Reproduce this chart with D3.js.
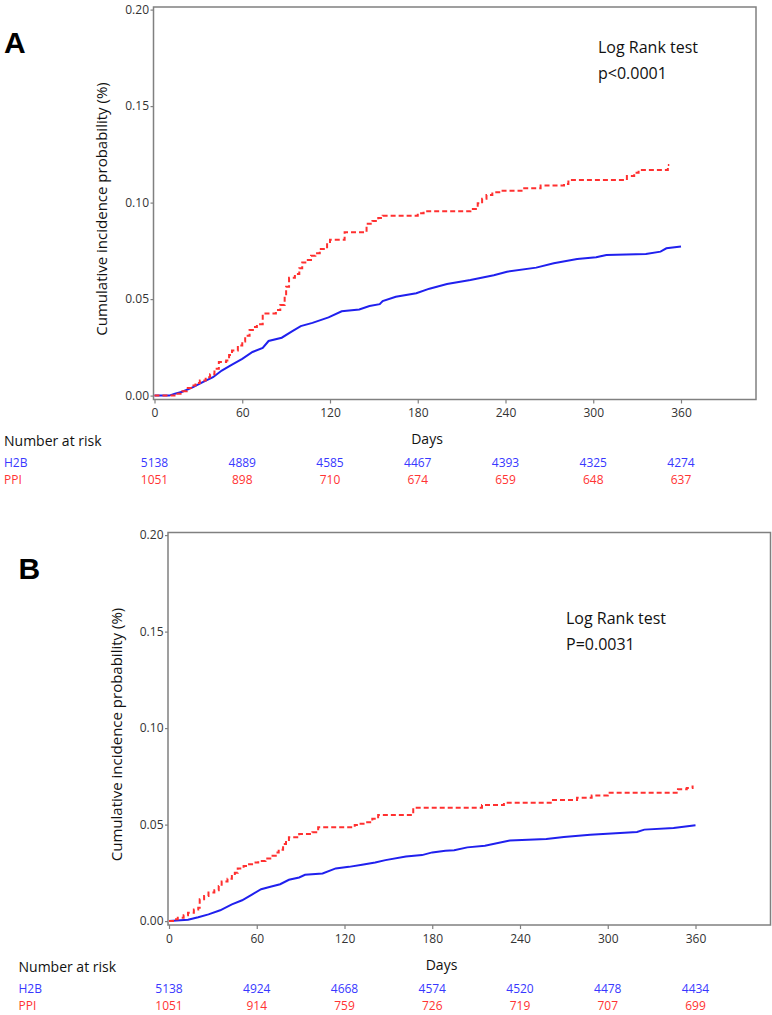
<!DOCTYPE html>
<html>
<head>
<meta charset="utf-8">
<script src="https://cdn.jsdelivr.net/npm/d3@7"></script>
<style>
  body { margin: 0; background: #fff; }
  svg { display: block; font-family: "Open Sans", sans-serif; }
</style>
</head>
<body>
<div id="chart"></div>
<script>
//
//  Two cumulative incidence panels (A and B) with a number-at-risk table
//  under each one. Panel B is the same layout shifted down and a bit right.
//

var days = [0, 60, 120, 180, 240, 300, 360];
var probTicks = [0, 0.05, 0.10, 0.15, 0.20];
var groups = ["H2B", "PPI"];
var panelLabels = ["A", "B"];
var pTexts = ["p<0.0001", "P=0.0031"];

    // [day, cumulative incidence]
var h2bCurveA = [[0,0],[10,0],[14,0.001],[19,0.002],[26,0.0043],[33,0.007],[40,0.0095],[46,0.013],
    [53,0.016],[60,0.019],[67,0.0226],[74,0.0247],[78,0.0283],[87,0.030],[94,0.0333],[100,0.036],
    [108,0.0377],[119,0.0405],[128,0.0437],[140,0.0446],[147,0.0464],[154,0.0474],[156,0.049],
    [165,0.0512],[179,0.053],[188,0.0554],[200,0.0578],[216,0.0599],[232,0.0624],[241,0.0642],
    [261,0.0663],[273,0.0686],[289,0.0708],[302,0.0717],[309,0.0729],[336,0.0734],[346,0.0746],
    [350,0.0763],[360,0.0772]];
var ppiCurveA = [[0,0],[15,0.001],[19,0.0023],[22,0.004],[25,0.0052],[28,0.0065],[31,0.0078],
    [35,0.0095],[38,0.011],[41,0.0139],[44,0.0174],[49,0.0182],[51,0.021],[53,0.0234],[57,0.026],
    [60,0.028],[62,0.031],[65,0.034],[68,0.0355],[70,0.037],[74,0.0425],[83,0.0443],[86,0.047],
    [89,0.052],[90,0.0564],[92,0.061],[96,0.063],[99,0.066],[101,0.069],[104,0.0703],[107,0.0725],
    [110,0.0738],[113,0.076],[118,0.079],[120,0.0807],[130,0.0847],[145,0.089],[149,0.0905],
    [153,0.092],[156,0.0932],[180,0.0945],[184,0.0955],[216,0.0967],[221,0.0996],[224,0.102],
    [227,0.1039],[231,0.1053],[238,0.1062],[252,0.1074],[264,0.1088],[280,0.1096],[283,0.1117],
    [323,0.1138],[328,0.1155],[331,0.1169],[351,0.1195],[352,0.1195]];
var h2bCurveB = [[0,0],[13,0.0007],[20,0.002],[27,0.0035],[35,0.0056],[43,0.0087],[50,0.0108],
    [57,0.0139],[63,0.0165],[70,0.0179],[76,0.0191],[82,0.0214],[89,0.0226],[93,0.024],[105,0.0247],
    [114,0.0273],[123,0.0281],[132,0.0292],[141,0.0304],[148,0.0316],[162,0.0335],[173,0.0342],
    [180,0.0356],[189,0.0365],[195,0.0367],[204,0.0382],[216,0.0391],[233,0.0417],[258,0.0426],
    [270,0.0436],[288,0.0448],[320,0.0462],[325,0.0474],[345,0.0483],[360,0.0497]];
var ppiCurveB = [[0,0],[4,0.001],[6,0.0017],[10,0.003],[13,0.0043],[17,0.006],[20,0.0069],
    [21,0.0113],[24,0.013],[27,0.0148],[31,0.016],[34,0.0182],[36,0.0205],[40,0.022],[43,0.0234],
    [45,0.025],[47,0.0273],[51,0.0285],[54,0.0295],[58,0.0303],[61,0.0312],[66,0.0325],[70,0.0339],
    [73,0.0355],[75,0.037],[78,0.040],[80,0.042],[82,0.0434],[89,0.0451],[98,0.046],[102,0.0486],
    [127,0.0498],[131,0.0505],[134,0.0512],[139,0.053],[143,0.055],[167,0.0587],[214,0.0601],
    [229,0.0613],[261,0.0627],[279,0.0639],[289,0.0651],[300,0.0665],[348,0.0683],[354,0.069],
    [358,0.0703]];

var h2bRiskA = [5138, 4889, 4585, 4467, 4393, 4325, 4274];
var ppiRiskA = [1051, 898, 710, 674, 659, 648, 637];
var h2bRiskB = [5138, 4924, 4668, 4574, 4520, 4478, 4434];
var ppiRiskB = [1051, 914, 759, 726, 719, 707, 699];

var lineColors = ["#2020ee", "#ff3030"];
var textColors = ["#3838ff", "#ff3333"];

var svg = d3.select("#chart").append("svg")
    .attr("width", 772)
    .attr("height", 1015);

    // one panel in local coordinates, moved into place by the group transform
function drawPanel(idx, ox, oy, curves, risks, testX, testY) {
    var g = svg.append("g").attr("transform", "translate(" + ox + "," + oy + ")");

    var x = d3.scaleLinear().domain([0, 360]).range([154.5, 681]);
    var y = d3.scaleLinear().domain([0, 0.20]).range([395.6, 9.6]);

        // panel letter
    g.append("text")
        .attr("x", 4).attr("y", 53)
        .style("font-family", "'Liberation Sans', Arial, sans-serif")
        .style("font-weight", "bold")
        .style("font-size", "30px")
        .text(panelLabels[idx]);

        // y axis ticks + labels
    var yAxis = g.append("g")
        .attr("transform", "translate(153.5,0)")
        .call(d3.axisLeft(y).tickValues(probTicks).tickFormat(d3.format(".2f")).tickSize(3).tickPadding(1.5));
    yAxis.select(".domain").remove();
    yAxis.selectAll("line").attr("stroke", "#808080").attr("stroke-width", 1.2);
    yAxis.selectAll("text").style("font-size", "12px").style("font-family", "'Open Sans', sans-serif").attr("fill", "#333");

        // x axis ticks + labels
    var xAxis = g.append("g")
        .attr("transform", "translate(0,399.5)")
        .call(d3.axisBottom(x).tickValues(days).tickSize(4).tickPadding(5));
    xAxis.select(".domain").remove();
    xAxis.selectAll("line").attr("stroke", "#808080").attr("stroke-width", 1.2);
    xAxis.selectAll("text").style("font-size", "12px").style("font-family", "'Open Sans', sans-serif").attr("fill", "#333");

        // frame around the plot area
    g.append("rect")
        .attr("x", 153.5).attr("y", 7)
        .attr("width", 602.5).attr("height", 392.5)
        .attr("fill", "none")
        .attr("stroke", "#808080")
        .attr("stroke-width", 1.5);

    g.append("text")
        .attr("transform", "translate(107,209) rotate(-90)")
        .attr("text-anchor", "middle")
        .style("font-size", "15px")
        .attr("fill", "#111")
        .text("Cumulative incidence probability (%)");

        // curves: H2B solid, PPI dashed steps
    var smooth = d3.line().x(function(d) { return x(d[0]); }).y(function(d) { return y(d[1]); });
    var steps = d3.line().x(function(d) { return x(d[0]); }).y(function(d) { return y(d[1]); })
        .curve(d3.curveStepAfter);

    g.append("path")
        .attr("d", smooth(curves[0]))
        .attr("fill", "none")
        .attr("stroke", lineColors[0])
        .attr("stroke-width", 2);

    g.append("path")
        .attr("d", steps(curves[1]))
        .attr("fill", "none")
        .attr("stroke", lineColors[1])
        .attr("stroke-width", 2)
        .attr("stroke-dasharray", "5,3");

        // log rank annotation
    g.append("text").attr("x", testX).attr("y", testY)
        .style("font-size", "16px").attr("fill", "#111").text("Log Rank test");
    g.append("text").attr("x", testX).attr("y", testY + 26)
        .style("font-size", "16px").attr("fill", "#111").text(pTexts[idx]);

        // number at risk table
    g.append("text").attr("x", 4).attr("y", 446)
        .style("font-size", "14px").attr("fill", "#111").text("Number at risk");
    g.append("text").attr("x", 427).attr("y", 444)
        .attr("text-anchor", "middle")
        .style("font-size", "14px").attr("fill", "#111").text("Days");

    var rowY = [467, 484];
    groups.forEach(function(name, r) {
        g.append("text").attr("x", 4).attr("y", rowY[r])
            .style("font-size", "12px").attr("fill", textColors[r]).text(name);
        g.selectAll(".risk" + r)
            .data(risks[r])
            .enter().append("text")
            .attr("class", "risk" + r)
            .attr("x", function(d, i) { return x(days[i]); })
            .attr("y", rowY[r])
            .attr("text-anchor", "middle")
            .style("font-size", "12px")
            .attr("fill", textColors[r])
            .text(function(d) { return d; });
    });
}

drawPanel(0, 0, 0, [h2bCurveA, ppiCurveA], [h2bRiskA, ppiRiskA], 598, 53);
drawPanel(1, 14.5, 525.5, [h2bCurveB, ppiCurveB], [h2bRiskB, ppiRiskB], 551.5, 98.5);
</script>
</body>
</html>
